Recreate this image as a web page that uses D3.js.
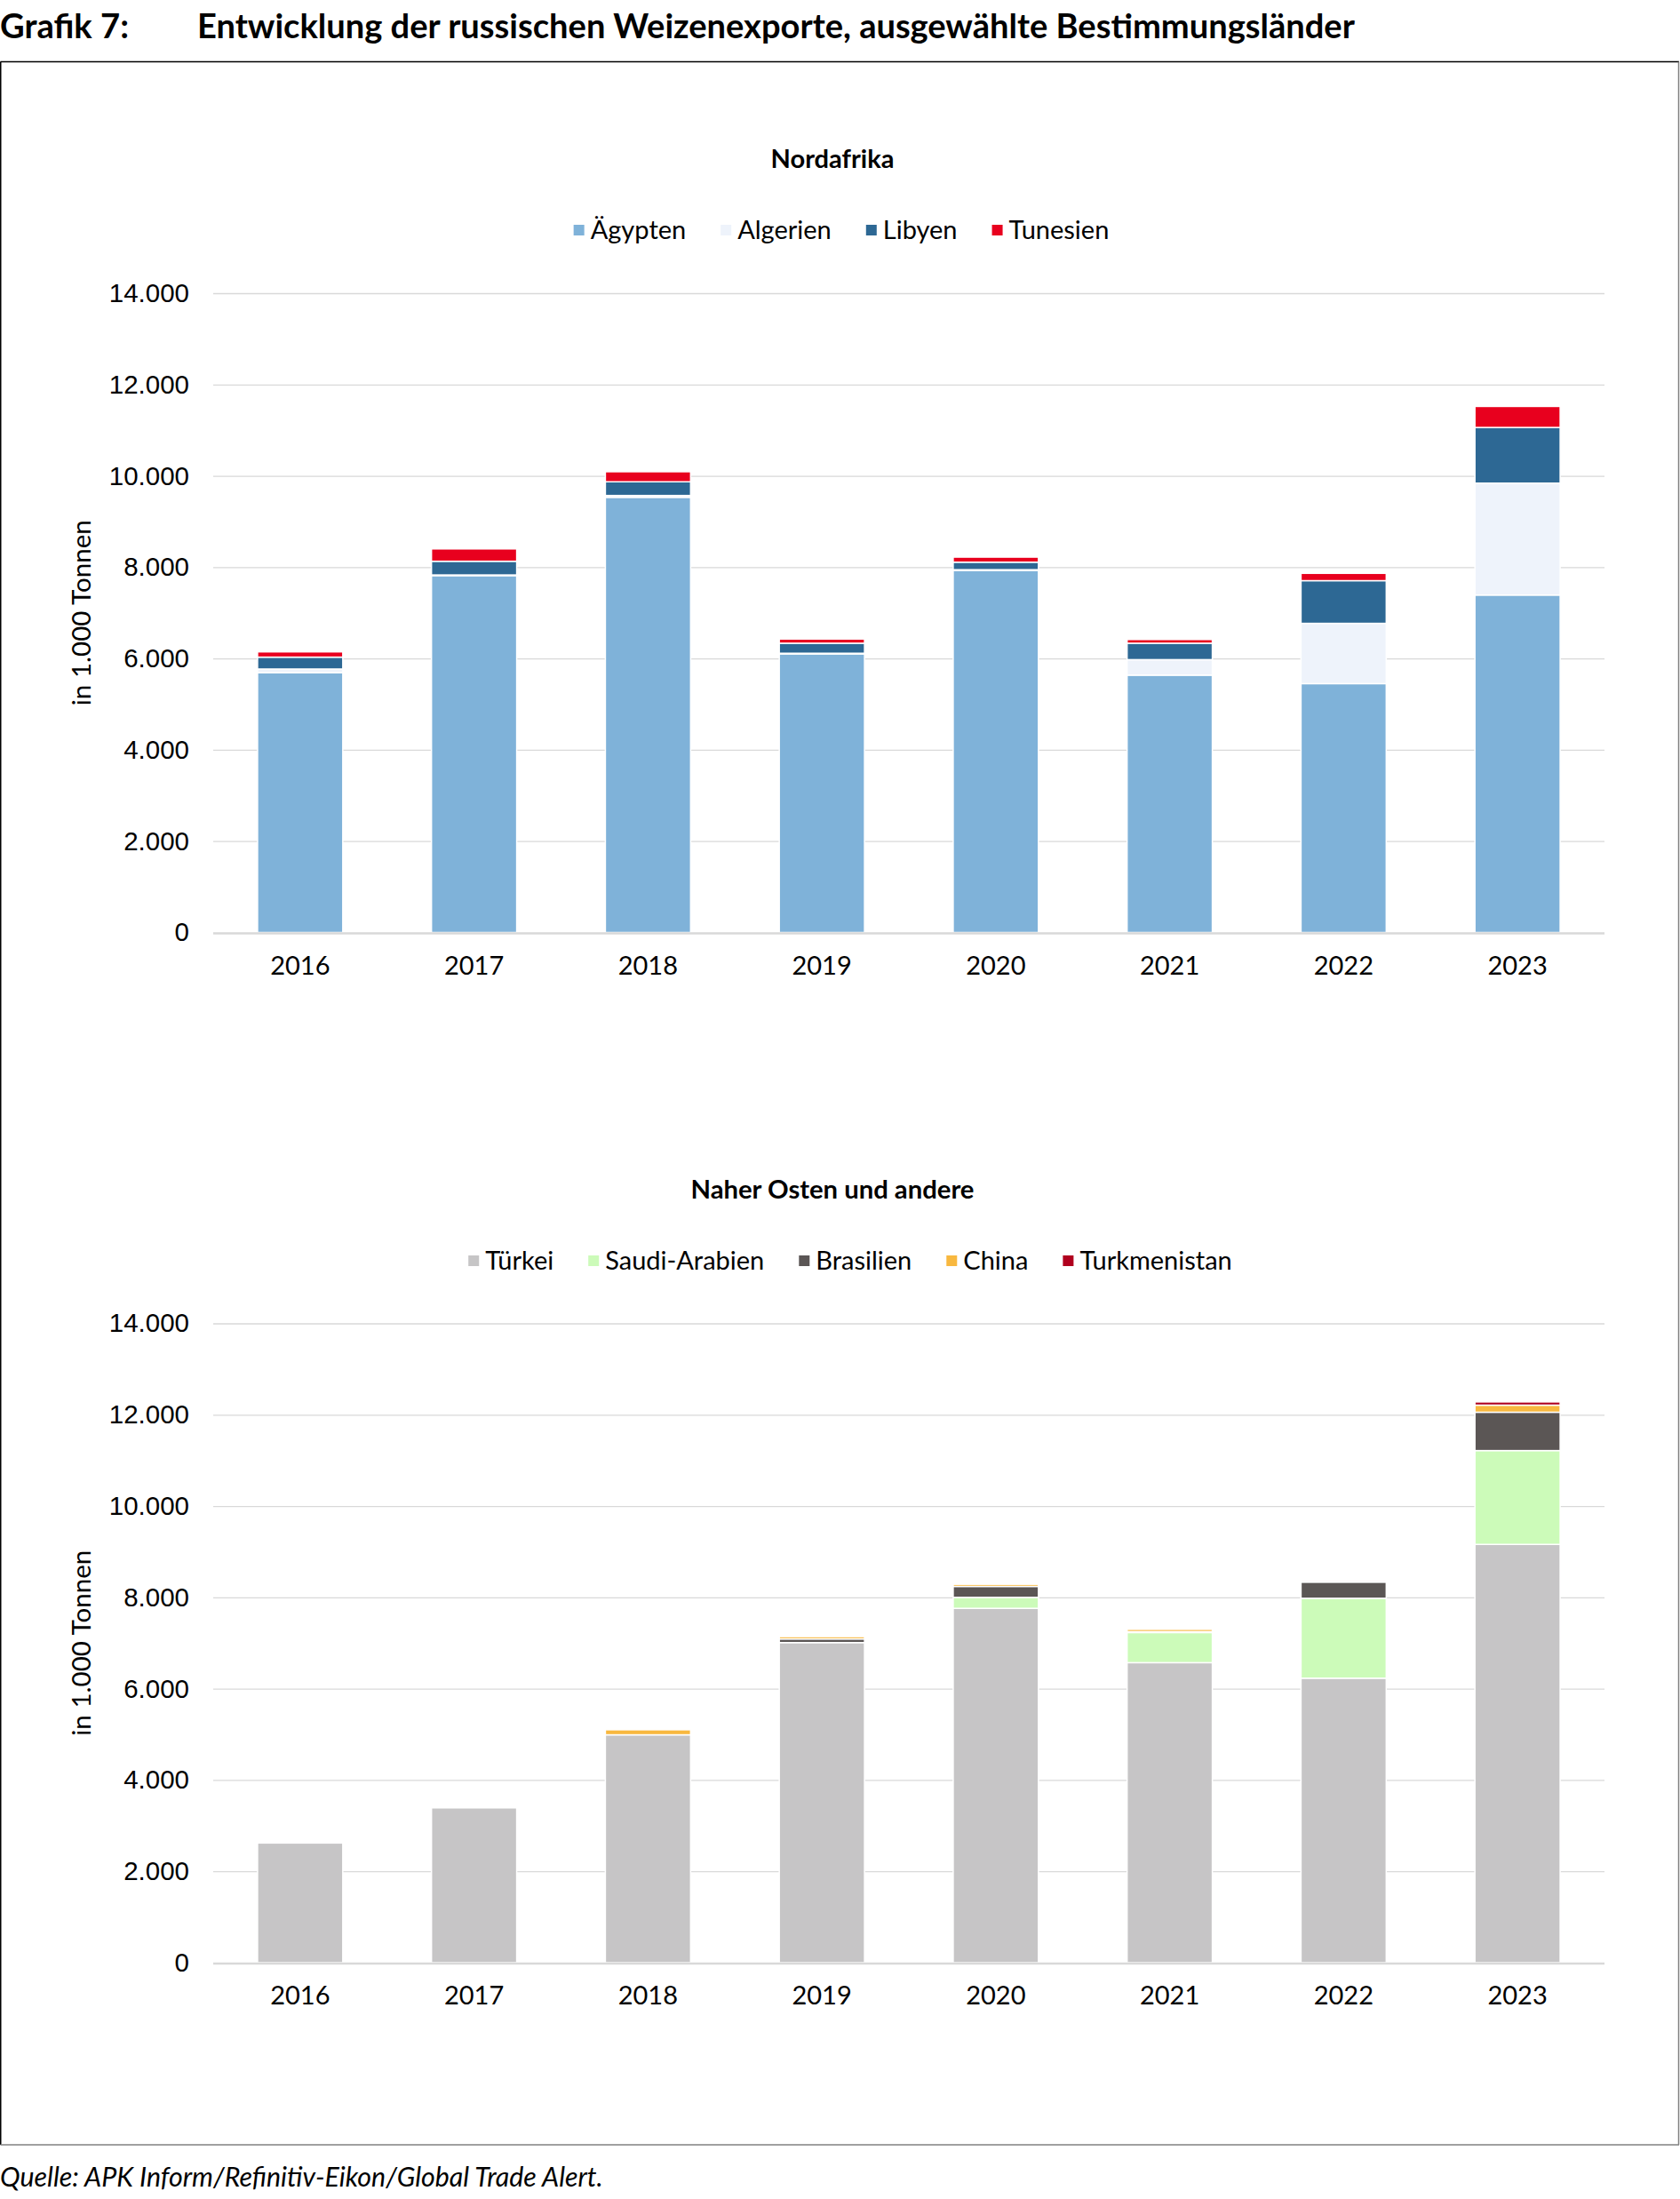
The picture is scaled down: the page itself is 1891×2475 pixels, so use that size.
<!DOCTYPE html>
<html><head><meta charset="utf-8">
<script src="https://cdn.jsdelivr.net/npm/d3@7"></script>
<style>html,body{margin:0;padding:0;background:#fff;}svg{display:block;}</style>
</head><body>
<svg id="c" width="1891" height="2475"></svg>
<script>
const years = ["2016","2017","2018","2019","2020","2021","2022","2023"];
const yTicks = [0,2000,4000,6000,8000,10000,12000,14000];

// Nordafrika (in 1.000 Tonnen)
const naNames = ["Ägypten","Algerien","Libyen","Tunesien"];
const naColors = ["#7fb2d9","#eef3fb","#2d6894","#e8001e"];
const naEgypt   = [5690, 7815, 9530, 6100, 7930, 5635, 5450, 7390];
const naAlgeria = [  80,   15,   40,   15,   15,  340, 1320, 2450];
const naLibya   = [ 260,  300,  300,  220,  165,  360,  935, 1220];
const naTunisia = [ 115,  270,  220,   90,  110,   80,  160,  460];

// Naher Osten und andere
const meNames = ["Türkei","Saudi-Arabien","Brasilien","China","Turkmenistan"];
const meColors = ["#c6c5c6","#ccfbb9","#5b5655","#f8b83f","#b0001e"];
const meTurkey  = [2620, 3390, 4990, 7010, 7760, 6570, 6230, 9160];
const meSaudi   = [   0,    0,    0,    0,  240,  660, 1750, 2055];
const meBrazil  = [   0,    0,    0,   80,  240,   20,  355,  840];
const meChina   = [   0,    0,  110,   50,   50,   50,    0,  155];
const meTurkmen = [   0,    0,    0,    0,   15,    0,   30,   70];

const svg = d3.select("#c");
const fmt = d => d3.format(",")(d).replace(/,/g, ".");

function fitWidth(sel, target) {
  const n = sel.node();
  const fs = parseFloat(sel.attr("font-size"));
  const w = n.getComputedTextLength();
  if (w > 0) sel.attr("font-size", (fs * target / w).toFixed(2));
}

// Header
svg.append("text").attr("x", 0).attr("y", 43).attr("font-family", "Lato").attr("font-weight", "bold")
  .attr("font-size", 31).attr("fill", "#000").text("Grafik 7:").call(s => fitWidth(s, 145));
svg.append("text").attr("x", 222).attr("y", 43).attr("font-family", "Lato").attr("font-weight", "bold")
  .attr("font-size", 31).attr("fill", "#000")
  .text("Entwicklung der russischen Weizenexporte, ausgewählte Bestimmungsländer").call(s => fitWidth(s, 1303));

// Frame
svg.append("line").attr("x1", 0.5).attr("y1", 69.5).attr("x2", 1890).attr("y2", 69.5).attr("stroke", "#000").attr("stroke-width", 1.5);
svg.append("line").attr("x1", 0.75).attr("y1", 69.5).attr("x2", 0.75).attr("y2", 2414).attr("stroke", "#000").attr("stroke-width", 1.5);
svg.append("line").attr("x1", 1889.5).attr("y1", 69.5).attr("x2", 1889.5).attr("y2", 2414).attr("stroke", "#808080").attr("stroke-width", 1.5);
svg.append("line").attr("x1", 0.5).attr("y1", 2414).attr("x2", 1890).attr("y2", 2414).attr("stroke", "#808080").attr("stroke-width", 1.5);

// Source
svg.append("text").attr("x", 0).attr("y", 2461).attr("font-family", "Lato").attr("font-style", "italic")
  .attr("font-size", 26).attr("fill", "#000").text("Quelle: APK Inform/Refinitiv-Eikon/Global Trade Alert.")
  .call(s => fitWidth(s, 679));

function drawChart(cfg) {
  const g = svg.append("g");
  const x = d3.scaleBand().domain(years).range([240, 1806]).paddingInner(0.51).paddingOuter(0.255);
  const y = d3.scaleLinear().domain([0, 14000]).range([cfg.y0, cfg.y0 - 719.5]);

  // Title
  g.append("text").attr("x", cfg.titleCx).attr("y", cfg.titleY).attr("text-anchor", "middle")
    .attr("font-family", "Lato").attr("font-weight", "bold").attr("font-size", 25).attr("fill", "#000")
    .text(cfg.title).call(s => fitWidth(s, cfg.titleW));

  // Legend
  const leg = g.append("g");
  const items = [];
  cfg.names.forEach((nm, i) => {
    const it = leg.append("g");
    it.append("rect").attr("x", 0).attr("y", -6).attr("width", 12).attr("height", 12).attr("fill", cfg.colors[i]);
    const t = it.append("text").attr("x", 19).attr("y", 10).attr("font-family", "Lato").attr("font-size", 29)
      .attr("fill", "#000").text(nm);
    const w = 19 + t.node().getComputedTextLength();
    items.push({it, w});
  });
  const gap = cfg.legendGap;
  const total = d3.sum(items, d => d.w) + gap * (items.length - 1);
  let pos = cfg.legendCx - total / 2;
  items.forEach(d => { d.it.attr("transform", `translate(${pos},${cfg.legendY})`); pos += d.w + gap; });

  // Gridlines
  g.append("g").selectAll("line").data(yTicks.filter(d => d > 0)).join("line")
    .attr("x1", 240).attr("x2", 1806).attr("y1", d => y(d) + 0.5).attr("y2", d => y(d) + 0.5)
    .attr("stroke", "#d9d9d9").attr("stroke-width", 1.3);

  // Y axis labels
  const ya = g.append("g").attr("transform", "translate(213,0)")
    .call(d3.axisLeft(y).tickValues(yTicks).tickFormat(fmt).tickSize(0).tickPadding(0));
  ya.select(".domain").remove();
  ya.selectAll("text").attr("font-family", "Liberation Sans").attr("font-size", 29.5).attr("fill", "#000");

  // Y axis title
  g.append("text").attr("transform", `translate(102,${(y(0) + y(14000)) / 2}) rotate(-90)`)
    .attr("text-anchor", "middle").attr("font-family", "Lato").attr("font-size", 26).attr("fill", "#000")
    .text("in 1.000 Tonnen").call(s => fitWidth(s, 209));

  // Stacked bars
  const rows = years.map((yr, i) => {
    const o = {year: yr};
    cfg.names.forEach((nm, k) => o[nm] = cfg.series[k][i]);
    return o;
  });
  const stack = d3.stack().keys(cfg.names)(rows);
  g.append("g").selectAll("g").data(stack).join("g")
    .attr("fill", (d, i) => cfg.colors[i])
    .selectAll("rect").data(d => d.filter(s => s[1] - s[0] > 0)).join("rect")
    .attr("x", d => x(d.data.year)).attr("width", x.bandwidth())
    .attr("y", d => y(d[1])).attr("height", d => y(d[0]) - y(d[1]))
    .attr("stroke", "#fff").attr("stroke-width", 1.5);

  // Baseline axis
  g.append("line").attr("x1", 240).attr("x2", 1806).attr("y1", y(0) + 1).attr("y2", y(0) + 1)
    .attr("stroke", "#d9d9d9").attr("stroke-width", 2.5);

  // X axis labels
  const xa = g.append("g").attr("transform", `translate(0,${y(0)})`)
    .call(d3.axisBottom(x).tickSize(0).tickPadding(0));
  xa.select(".domain").remove();
  xa.selectAll("text").attr("dy", null).attr("y", 47).attr("font-family", "Lato").attr("font-size", 29).attr("fill", "#000");
}

drawChart({
  title: "Nordafrika", titleCx: 937, titleY: 188.5, titleW: 139,
  names: naNames, colors: naColors, series: [naEgypt, naAlgeria, naLibya, naTunisia],
  legendCx: 947, legendY: 259, legendGap: 39, y0: 1049.5
});
drawChart({
  title: "Naher Osten und andere", titleCx: 937, titleY: 1348.5, titleW: 319,
  names: meNames, colors: meColors, series: [meTurkey, meSaudi, meBrazil, meChina, meTurkmen],
  legendCx: 957, legendY: 1419, legendGap: 39, y0: 2209
});
</script>
</body></html>
